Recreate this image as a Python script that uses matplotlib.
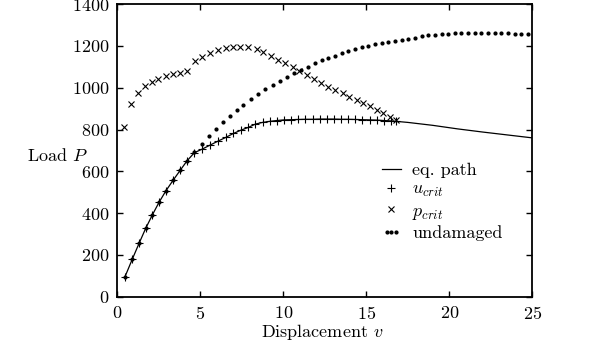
import matplotlib
matplotlib.use("Agg")
import matplotlib.pyplot as plt
from matplotlib.legend_handler import HandlerLine2D

plt.rcParams["font.family"] = "cmr10"
plt.rcParams["mathtext.fontset"] = "cm"
plt.rcParams["axes.formatter.use_mathtext"] = True

# equilibrium path (solid line) and critical displacement points
v_path = [0.45, 0.90, 1.31, 1.71, 2.11, 2.51, 2.93, 3.37, 3.80, 4.20, 4.64,
          5.08, 5.58, 6.08, 6.53, 6.99, 7.45, 7.89, 8.32, 8.75, 9.18, 9.61,
          10.04, 10.47, 10.90, 11.33, 11.76, 12.19, 12.62, 13.05, 13.48,
          13.91, 14.34, 14.77, 15.20, 15.63, 16.06, 16.49, 16.80,
          17.5, 19.0, 20.5, 22.0, 23.5, 25.0]
P_path = [93, 179, 255, 327, 391, 451, 507, 558, 606, 650, 689,
          705, 725, 745, 762, 781, 797, 810, 826, 834, 839, 843,
          846, 847, 848, 849, 849, 850, 850, 850, 849,
          849, 848, 847, 846, 845, 843, 841, 839,
          834, 820, 803, 788, 774, 760]
n_ucrit = 39  # points of the path carrying a u_crit marker

# critical load points
v_pcrit = [0.42, 0.83, 1.23, 1.67, 2.07, 2.47, 2.92, 3.36, 3.80, 4.22,
           4.68, 5.12, 5.60, 6.08, 6.53, 6.97, 7.41, 7.86, 8.40, 8.80,
           9.28, 9.70, 10.12, 10.57, 10.96, 11.41, 11.85, 12.25, 12.69,
           13.13, 13.58, 13.98, 14.42, 14.82, 15.22, 15.63, 16.02, 16.43,
           16.79]
P_pcrit = [810, 921, 976, 1008, 1028, 1040, 1055, 1065, 1071, 1078,
           1126, 1148, 1164, 1180, 1188, 1195, 1197, 1197, 1183, 1173,
           1154, 1135, 1116, 1097, 1081, 1062, 1040, 1024, 1004,
           988, 973, 957, 941, 928, 912, 893, 877, 858,
           845]

# undamaged response
v_undam = [0.45, 0.90, 1.31, 1.71, 2.11, 2.51, 2.93, 3.37, 3.80, 4.20,
           4.64, 5.08, 5.52, 5.95, 6.37, 6.79, 7.19, 7.59, 8.03, 8.49,
           8.92, 9.36, 9.80, 10.20, 10.64, 11.05, 11.47, 11.91, 12.31,
           12.71, 13.11, 13.52, 13.92, 14.32, 14.72, 15.12, 15.52, 15.93,
           16.33, 16.73, 17.13, 17.53, 17.93, 18.33, 18.73, 19.13, 19.53,
           19.93, 20.33, 20.73, 21.13, 21.53, 21.93, 22.33, 22.73, 23.13,
           23.53, 23.93, 24.33, 24.76]
P_undam = [93, 179, 255, 327, 391, 451, 507, 558, 606, 650,
           693, 733, 770, 802, 835, 866, 893, 917, 944, 969,
           992, 1012, 1033, 1052, 1071, 1084, 1100, 1116, 1132,
           1140, 1151, 1164, 1175, 1184, 1193, 1200, 1209, 1215,
           1220, 1224, 1229, 1235, 1240, 1246, 1250, 1254, 1257,
           1259, 1260, 1261, 1262, 1263, 1263, 1263, 1262, 1261,
           1260, 1259, 1257, 1255]

fig = plt.figure(figsize=(6.0, 3.44), dpi=100)
ax = fig.add_axes([0.1955, 0.1375, 0.6917, 0.8505])

ax.plot(v_path, P_path, color="black", lw=0.9, label="eq. path")
ax.plot(v_path[:n_ucrit], P_path[:n_ucrit], ls="none", marker="+",
        ms=5.5, mew=0.8, color="black", label="$u_{crit}$")
ax.plot(v_pcrit, P_pcrit, ls="none", marker="x", ms=4, mew=0.8,
        color="black", label="$p_{crit}$")
dots, = ax.plot(v_undam, P_undam, ls="none", marker="o", ms=2.0,
                color="black", label="undamaged")

ax.set_xlim(0, 25)
ax.set_ylim(0, 1400)
ax.set_xticks([0, 5, 10, 15, 20, 25])
ax.set_yticks(range(0, 1401, 200))
ax.tick_params(direction="in", top=True, right=True, length=4.5,
               width=1.0, labelsize=13, pad=6)
for s in ax.spines.values():
    s.set_linewidth(1.3)

ax.set_xlabel("Displacement $v$", fontsize=13)
ax.xaxis.set_label_coords(0.493, -0.12)
ax.xaxis.label.set_va("center")
ax.set_ylabel("Load $P$", fontsize=13, rotation=0, va="center", ha="center")
ax.yaxis.set_label_coords(-0.144, 0.484)

ax.legend(loc="upper left", bbox_to_anchor=(0.615, 0.49), frameon=False,
          fontsize=13, handlelength=1.1, handletextpad=0.6,
          labelspacing=0.2, borderpad=0, numpoints=1,
          handler_map={dots: HandlerLine2D(numpoints=3)})

fig.savefig("out.png", dpi=100)
